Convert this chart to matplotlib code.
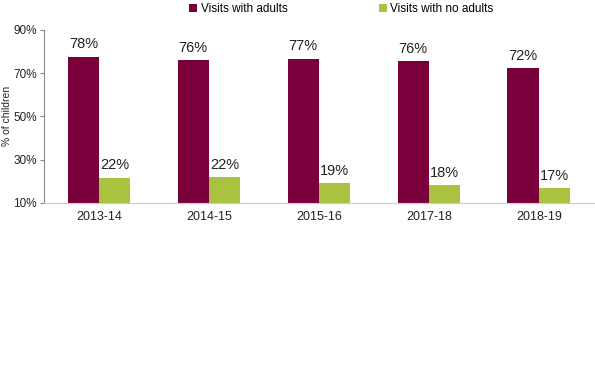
import matplotlib.pyplot as plt
import numpy as np

plt.rcParams["font.family"] = ["Liberation Sans", "DejaVu Sans"]

years = ["2013-14", "2014-15", "2015-16", "2017-18", "2018-19"]
with_adults = [77.6, 76.0, 76.6, 75.6, 72.3]
no_adults = [21.6, 22.0, 19.2, 18.2, 16.9]

maroon = "#7a003c"
green = "#a9c23f"

fig = plt.figure(figsize=(5.95, 3.69), dpi=100)
ax = fig.add_axes([0.074, 0.45, 0.924, 0.469])

x = np.arange(len(years))
w = 0.285
b1 = ax.bar(x - w / 2, with_adults, w, color=maroon, label="Visits with adults")
b2 = ax.bar(x + w / 2, no_adults, w, color=green, label="Visits with no adults")

for bars, vals in [(b1, with_adults), (b2, no_adults)]:
    for r, v in zip(bars, vals):
        ax.text(r.get_x() + r.get_width() / 2, v + 2.5, f"{round(v)}%",
                ha="center", va="bottom", fontsize=10.5, color="#222222")

ax.set_ylim(10, 90)
ax.set_yticks([10, 30, 50, 70, 90])
ax.set_yticklabels([f"{t}%" for t in [10, 30, 50, 70, 90]], fontsize=8.5, color="#222222")
ax.set_xlim(-0.5, len(years) - 0.5)
ax.set_xticks(x)
ax.set_xticklabels(years, fontsize=9, color="#222222")
ax.tick_params(axis="x", length=0, pad=6)
ax.tick_params(axis="y", length=3, color="#888888", pad=2)
ax.set_ylabel("% of children", fontsize=7.5, color="#222222")
ax.yaxis.set_label_coords(-0.059, 0.5)

for s in ["top", "right"]:
    ax.spines[s].set_visible(False)
ax.spines["left"].set_color("#888888")
ax.spines["bottom"].set_color("#cccccc")

fig.legend(handles=[b1, b2], loc="upper left", bbox_to_anchor=(0.30, 1.02),
           ncol=2, frameon=False, fontsize=8.5, handlelength=0.7, handleheight=0.7,
           columnspacing=7.7, handletextpad=0.3)

fig.savefig("out.png", dpi=100)
